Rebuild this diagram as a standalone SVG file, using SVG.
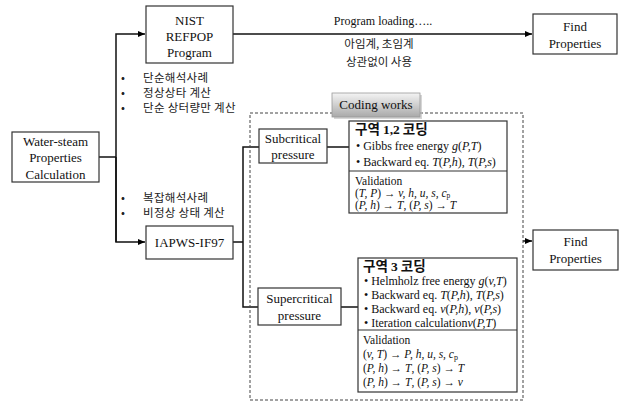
<svg xmlns="http://www.w3.org/2000/svg" width="619" height="403" viewBox="0 0 619 403">
<defs>
<marker id="ah" markerWidth="8" markerHeight="6" refX="7" refY="3" orient="auto" markerUnits="userSpaceOnUse">
<path d="M0,0 L7,3 L0,6 Z" fill="#000"/>
</marker>
<linearGradient id="cg" x1="0" y1="0" x2="0" y2="1">
<stop offset="0" stop-color="#f4f4f4"/>
<stop offset="1" stop-color="#a9a9a9"/>
</linearGradient>
</defs>
<style>
.box{fill:#fff;stroke:#333;stroke-width:1.2}
.t{font-family:"Liberation Serif","Times New Roman",serif;font-size:13px;fill:#111;text-anchor:middle}
.s{font-family:"Liberation Serif","Times New Roman",serif;font-size:12px;fill:#111}
.v{font-family:"Liberation Serif","Times New Roman",serif;font-size:11.5px;fill:#111}
.k{font-family:"Noto Sans CJK KR",sans-serif;font-size:11.5px;fill:#222}
.kt{font-family:"Noto Sans CJK KR",sans-serif;font-size:13.5px;font-weight:bold;fill:#111}
.i{font-style:italic}
.ln{fill:none;stroke:#111;stroke-width:1.5}
.dash{fill:none;stroke:#444;stroke-width:1;stroke-dasharray:3,2}
</style>
<g id="connectors">
<path class="ln" d="M99,157 H116"/>
<path class="ln" d="M116,242 V34 H145" marker-end="url(#ah)"/>
<path class="ln" d="M116,157 V242 H145" marker-end="url(#ah)"/>
<path class="ln" d="M233,34 H532" marker-end="url(#ah)"/>
<path class="ln" d="M233,242 H243"/>
<path class="ln" d="M259,147 H243 V307 H258"/>
<path class="ln" d="M327,147 H349"/>
<path class="ln" d="M341,307 H358"/>
<path class="ln" d="M523,241 H532" marker-end="url(#ah)"/>
</g>
<g id="coding-area">
<rect class="dash" x="250" y="113" width="273" height="287"/>
</g>
<g id="water-steam">
<rect class="box" x="12" y="132" width="87" height="50"/>
<text class="t" x="55.5" y="145.5">Water-steam</text>
<text class="t" x="55.5" y="162">Properties</text>
<text class="t" x="55.5" y="178.5">Calculation</text>
</g>
<g id="nist">
<rect class="box" x="146" y="6" width="87" height="57"/>
<text class="t" x="189.5" y="24.5">NIST</text>
<text class="t" x="189.5" y="40.5">REFPOP</text>
<text class="t" x="189.5" y="56.5">Program</text>
</g>
<g id="loading-label">
<text class="s" x="383" y="25" text-anchor="middle">Program loading…..</text>
<text class="k" x="379" y="48" text-anchor="middle" font-size="15">아임계, 초임계</text>
<text class="k" x="379" y="66" text-anchor="middle" font-size="15">상관없이 사용</text>
</g>
<g id="find1">
<rect class="box" x="533" y="14" width="84" height="40"/>
<text class="t" x="575" y="30.5">Find</text>
<text class="t" x="575" y="47.5">Properties</text>
</g>
<g id="notes-nist">
<text class="k" x="121" y="82">•</text><text class="k" x="143" y="82" letter-spacing="0.3">단순해석사례</text>
<text class="k" x="121" y="97">•</text><text class="k" x="143" y="97" letter-spacing="0.3">정상상타 계산</text>
<text class="k" x="121" y="112">•</text><text class="k" x="143" y="112" letter-spacing="0.3">단순 상터량만 계산</text>
</g>
<g id="notes-iapws">
<text class="k" x="121" y="202">•</text><text class="k" x="143" y="202" letter-spacing="0.3">복잡해석사례</text>
<text class="k" x="121" y="217">•</text><text class="k" x="143" y="217" letter-spacing="0.3">비정상 상태 계산</text>
</g>
<g id="iapws">
<rect class="box" x="146" y="226" width="87" height="33"/>
<text class="t" x="189.5" y="246.5">IAPWS-IF97</text>
</g>
<g id="coding-works">
<rect x="334" y="95" width="88" height="24" fill="#bbb" opacity="0.6"/>
<rect x="332" y="93" width="88" height="24" fill="url(#cg)" stroke="#999" stroke-width="0.8"/>
<text class="t" x="376" y="109" font-size="12.5">Coding works</text>
</g>
<g id="subcritical">
<rect class="box" x="259" y="129" width="68" height="34"/>
<text class="t" x="293" y="142.5">Subcritical</text>
<text class="t" x="293" y="158.5">pressure</text>
</g>
<g id="region12">
<rect class="box" x="349" y="121" width="158" height="92"/>
<line x1="349" y1="171" x2="507" y2="171" stroke="#333" stroke-width="1.2"/>
<text class="kt" x="355" y="134">구역 <tspan font-family="Liberation Serif,serif">1,2</tspan> 코딩</text>
<text class="s" x="356" y="150">•  Gibbs free energy <tspan class="i">g</tspan>(<tspan class="i">P,T</tspan>)</text>
<text class="s" x="356" y="166">•  Backward eq. <tspan class="i">T</tspan>(<tspan class="i">P,h</tspan>), <tspan class="i">T</tspan>(<tspan class="i">P,s</tspan>)</text>
<text class="v" x="355" y="185" font-size="11">Validation</text>
<text class="v" x="355" y="196.5" font-size="11">(<tspan class="i">T, P</tspan>) →  <tspan class="i">v, h, u, s, c</tspan><tspan font-size="7.5" dy="1.5">p</tspan></text>
<text class="v" x="355" y="209" font-size="11">(<tspan class="i">P, h</tspan>) →  <tspan class="i">T</tspan>, (<tspan class="i">P, s</tspan>) →  <tspan class="i">T</tspan></text>
</g>
<g id="find2">
<rect class="box" x="533" y="230" width="85" height="40"/>
<text class="t" x="575.5" y="246">Find</text>
<text class="t" x="575.5" y="263">Properties</text>
</g>
<g id="supercritical">
<rect class="box" x="258" y="288" width="83" height="37"/>
<text class="t" x="299.5" y="303">Supercritical</text>
<text class="t" x="299.5" y="320">pressure</text>
</g>
<g id="region3">
<rect class="box" x="358" y="258" width="159" height="134"/>
<line x1="358" y1="330" x2="517" y2="330" stroke="#333" stroke-width="1.2"/>
<text class="kt" x="363" y="271">구역 <tspan font-family="Liberation Serif,serif">3</tspan> 코딩</text>
<text class="s" x="364" y="285">•  Helmholz free energy <tspan class="i">g</tspan>(<tspan class="i">v,T</tspan>)</text>
<text class="s" x="364" y="299">•  Backward eq. <tspan class="i">T</tspan>(<tspan class="i">P,h</tspan>), <tspan class="i">T</tspan>(<tspan class="i">P,s</tspan>)</text>
<text class="s" x="364" y="313">•  Backward eq. <tspan class="i">v</tspan>(<tspan class="i">P,h</tspan>), <tspan class="i">v</tspan>(<tspan class="i">P,s</tspan>)</text>
<text class="s" x="364" y="327">•  Iteration calculation<tspan class="i">v</tspan>(<tspan class="i">P,T</tspan>)</text>
<text class="v" x="363" y="344">Validation</text>
<text class="v" x="363" y="357.5">(<tspan class="i">v, T</tspan>) →  <tspan class="i">P, h, u, s, c</tspan><tspan font-size="8" dy="2">p</tspan></text>
<text class="v" x="363" y="371.5">(<tspan class="i">P, h</tspan>) →  <tspan class="i">T</tspan>, (<tspan class="i">P, s</tspan>) →  <tspan class="i">T</tspan></text>
<text class="v" x="363" y="385.5">(<tspan class="i">P, h</tspan>) →  <tspan class="i">T</tspan>, (<tspan class="i">P, s</tspan>) →  <tspan class="i">v</tspan></text>
</g>
</svg>
